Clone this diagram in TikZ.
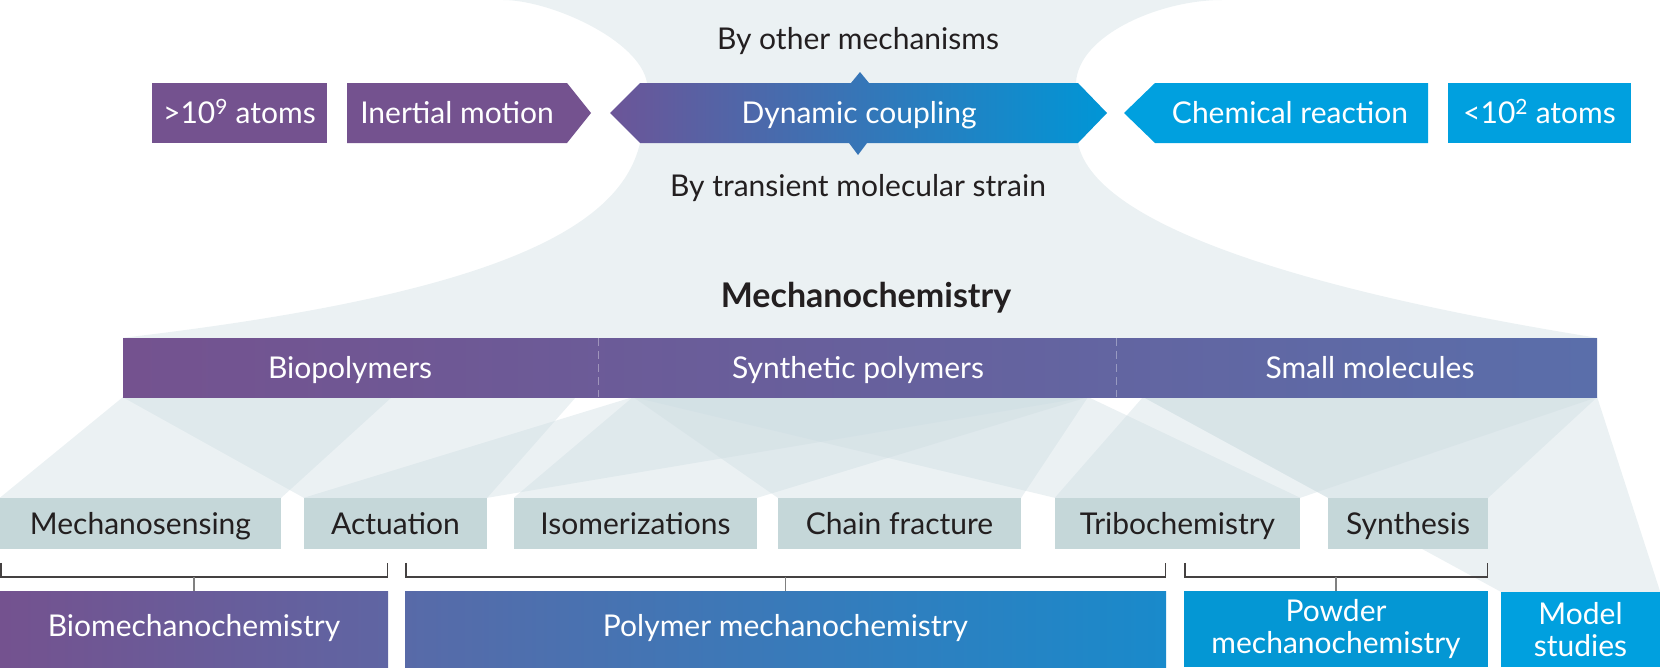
\documentclass[tikz,border=0pt]{standalone}
\usepackage{fontspec}
\setmainfont{Lato}
\usepackage{tikz}
\usetikzlibrary{positioning,calc,backgrounds}

\definecolor{vio}{RGB}{116,82,143}
\definecolor{sky}{RGB}{0,160,223}
\definecolor{barR}{RGB}{90,110,170}
\definecolor{dynL}{RGB}{108,85,152}
\definecolor{dynR}{RGB}{0,150,214}
\definecolor{bioR}{RGB}{95,101,163}
\definecolor{polyL}{RGB}{88,106,168}
\definecolor{polyR}{RGB}{25,138,203}
\definecolor{powd}{RGB}{4,151,212}
\definecolor{midgrey}{RGB}{197,215,217}
\definecolor{haze}{RGB}{235,241,243}
\definecolor{fanc}{RGB}{205,220,225}
\definecolor{ink}{RGB}{35,31,32}

\begin{document}
\begin{tikzpicture}[x=1pt,y=-1pt,
    lbl/.style={font=\fontsize{30}{32}\selectfont, inner sep=0pt, text height=21.5pt, text depth=0pt},
    whitelbl/.style={lbl, text=white},
    inklbl/.style={lbl, text=ink},
    midbox/.style={inklbl, fill=midgrey, minimum height=51pt},
    basebox/.style={whitelbl, minimum height=76pt, text depth=7pt},
    twoline/.style={font=\fontsize{30}{32}\selectfont, inner sep=0pt, text=white, align=center, minimum height=76pt},
    fan/.style={fill=fanc, fill opacity=0.4},
    bracket/.style={draw=ink!85, line width=1.4pt},
    stem/.style={draw=gray, line width=1.4pt},
  ]
    \useasboundingbox (0,0) rectangle (1660,667);

    % Top row: scale of the process
    \node[whitelbl, fill=vio, minimum width=175pt, minimum height=60pt] (big) at (239.5,113) {>10\textsuperscript{9} atoms};
    \fill[vio] (347,83) -- (567,83) -- (591,113) -- (567,143) -- (347,143) -- cycle;
    \node[whitelbl] (inertial) at (457,113) {Inertial motion};
    \shade[left color=dynL, right color=dynR] (610,113) -- (640,83) -- (851,83) -- (860,72) -- (869,83) -- (1078,83)
        -- (1107,113) -- (1078,143) -- (867,143) -- (858,155) -- (849,143) -- (640,143) -- cycle;
    \node[whitelbl] (dynamic) at (859,113) {Dynamic coupling};
    \fill[sky] (1124,113) -- (1155,83) -- (1428,83) -- (1428,143) -- (1155,143) -- cycle;
    \node[whitelbl] (chemical) at (1290,113) {Chemical reaction};
    \node[whitelbl, fill=sky, minimum width=183pt, minimum height=60pt] (small) at (1539.5,113) {<10\textsuperscript{2} atoms};

    \node[inklbl, anchor=base] (other) at (858,49) {By other mechanisms};
    \node[inklbl, anchor=base] (strain) at (858,196) {By transient molecular strain};
    \node[inklbl, anchor=base, font=\fontsize{34}{36}\selectfont\bfseries] (mechano) at (866,307) {Mechanochemistry};

    % Molecule classes
    \node[whitelbl, left color=vio, right color=barR, minimum width=1474pt, minimum height=59pt] (bar) at (860,367.5) {};
    \draw[white, opacity=0.35, dash pattern=on 8pt off 5pt] (598,338) -- (598,397) (1116,338) -- (1116,397);
    \node[whitelbl] (biopoly) at (350,367.5) {Biopolymers};
    \node[whitelbl] (synpoly) at (858,367.5) {Synthetic polymers};
    \node[whitelbl] (smallmol) at (1370,367.5) {Small molecules};

    % Phenomena
    \node[midbox, minimum width=281pt] (msense) at (140.5,523.5) {Mechanosensing};
    \node[midbox, minimum width=183pt] (actu) at (395.5,523.5) {Actuation};
    \node[midbox, minimum width=243pt] (isom) at (635.5,523.5) {Isomerizations};
    \node[midbox, minimum width=243pt] (chain) at (899.5,523.5) {Chain fracture};
    \node[midbox, minimum width=245pt] (tribo) at (1177.5,523.5) {Tribochemistry};
    \node[midbox, minimum width=160pt] (synth) at (1408,523.5) {Synthesis};

    % Fields
    \node[basebox, left color=vio, right color=bioR, minimum width=388pt] (biomech) at (194,629) {Biomechanochemistry};
    \node[basebox, left color=polyL, right color=polyR, minimum width=761pt] (polymech) at (785.5,629) {Polymer mechanochemistry};
    \node[twoline, fill=powd, minimum width=304pt] (powder) at (1336,629) {Powder\\mechanochemistry};
    \node[twoline, fill=sky, minimum width=159pt, minimum height=75pt] (model) at (1580.5,629.5) {Model\\studies};

    \foreach \b in {biomech,polymech,powder} {
        \draw[bracket] ($(\b.north west)+(1,-28)$) |- ($(\b.north)+(0,-14)$) -| ($(\b.north east)+(-1,-28)$);
        \draw[stem] ($(\b.north)+(0,-14)$) -- (\b.north);
    }

    % Fan tops along the bar
    \coordinate (bioL) at (bar.south west);
    \coordinate (bioM) at (392,397);
    \coordinate (bioR) at (576,397);
    \coordinate (synL) at (633,397);
    \coordinate (synR) at (1088,397);
    \coordinate (smlL) at (1143,397);
    \coordinate (smlR) at (bar.south east);

    \begin{scope}[on background layer]
        \fill[haze] (503,0) .. controls (550,0) and (640,40) .. (647,83) -- (640,143)
            .. controls (620,230) and (490,295) .. (bar.north west) -- (bar.north east)
            .. controls (1330,295) and (1095,230) .. (1078,143) -- (1076,83)
            .. controls (1078,35) and (1160,0) .. (1222,0) -- cycle;
        \fill[fan] (bioL) -- (bioM) -- (msense.north east) -- (msense.north west) -- cycle;
        \fill[fan] (bioL) -- (bioR) -- (actu.north east) -- (actu.north west) -- cycle;
        \foreach \m in {actu,isom,chain,tribo}
            \fill[fan] (synL) -- (synR) -- (\m.north east) -- (\m.north west) -- cycle;
        \foreach \m in {tribo,synth,model}
            \fill[fan] (smlL) -- (smlR) -- (\m.north east) -- (\m.north west) -- cycle;
    \end{scope}
\end{tikzpicture}
\end{document}
